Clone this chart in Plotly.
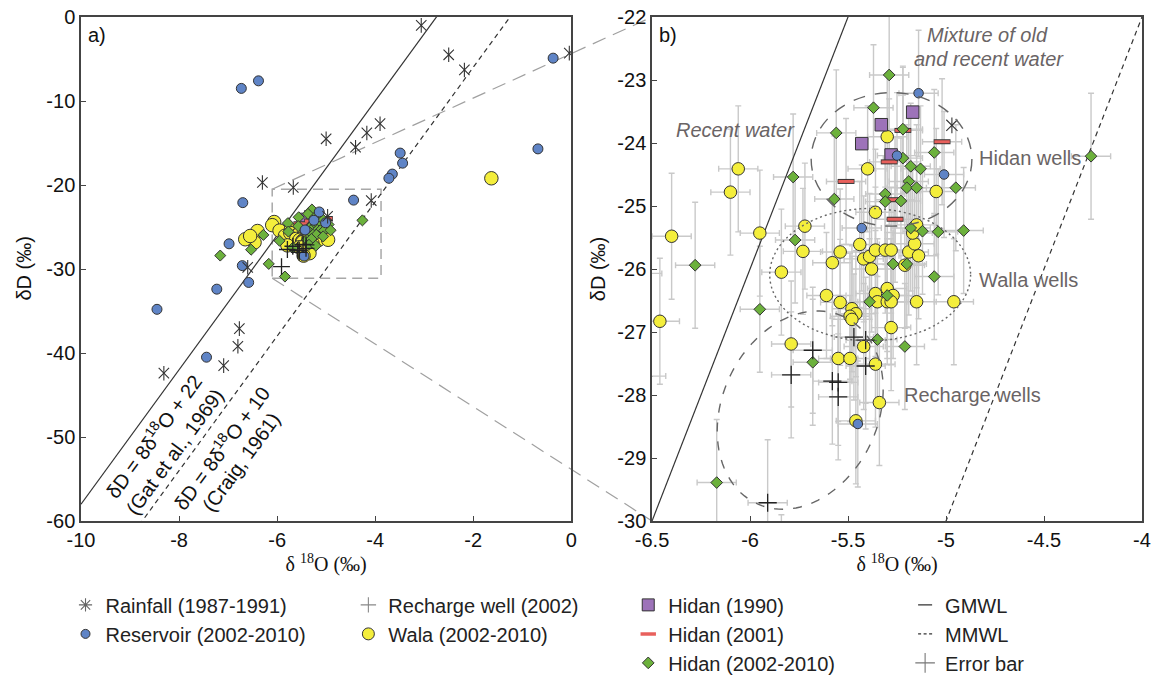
import numpy as np
import plotly.graph_objects as go

# ---------------- data ----------------
rain_o = [-3.06, -2.50, -2.18, -0.04, -3.90, -4.17, -4.40, -5.00, -6.30, -5.67, -4.08, -4.97, -6.60, -8.31, -6.77, -6.80, -7.09]
rain_d = [-1.0, -4.5, -6.3, -4.3, -12.7, -13.8, -15.5, -14.5, -19.7, -20.3, -21.85, -23.72, -29.8, -42.4, -37.1, -39.2, -41.5]

res_o = [-6.73, -6.38, -0.37, -0.68, -3.49, -3.44, -3.65, -3.72, -6.70, -4.44, -6.98, -6.71, -6.58, -7.23, -8.45, -7.44,
         -5.14, -5.25, -5.01, -5.43, -5.45]
res_d = [-8.5, -7.6, -4.9, -15.7, -16.2, -17.4, -18.7, -19.2, -22.1, -21.8, -27.0, -29.6, -31.6, -32.4, -34.8, -40.5,
         -23.21, -24.20, -24.50, -25.35, -28.46]
res_err_o = [0] * 16 + [0.1] * 5
res_err_d = [0] * 16 + [1.0] * 5

recharge_o = [-5.47, -5.41, -5.68, -5.79, -5.58, -5.55, -5.55, -5.41, -5.91]
recharge_d = [-27.08, -27.13, -27.29, -27.68, -27.78, -27.80, -28.03, -27.54, -29.71]

wala_o = [-6.40, -6.06, -6.10, -5.95, -5.72, -5.84, -5.73, -5.58, -5.54, -5.44, -5.42, -5.39, -5.38, -5.36, -5.31,
          -5.28, -5.19, -5.14, -5.21, -5.16, -5.17, -5.15, -5.05, -5.40, -5.30, -5.36, -6.46, -5.61, -5.54, -5.48,
          -5.46, -5.49, -5.48, -5.36, -5.30, -5.27, -5.35, -5.30, -5.28, -5.15, -4.96, -5.28, -5.79, -5.42, -5.55,
          -5.49, -5.36, -5.34, -5.46, -6.65, -6.55, -1.63]
wala_d = [-25.48, -24.41, -24.78, -25.43, -25.32, -26.05, -25.72, -25.90, -25.73, -25.61, -25.84, -25.80, -26.00,
          -25.70, -25.70, -25.70, -25.73, -25.79, -25.94, -25.60, -25.43, -25.30, -24.77, -24.41, -23.90, -25.10,
          -26.83, -26.42, -26.53, -26.63, -26.71, -26.75, -26.80, -26.39, -26.31, -26.42, -26.52, -26.52, -26.52,
          -26.52, -26.52, -26.93, -27.19, -27.23, -27.42, -27.42, -27.51, -28.12, -28.41, -26.46, -26.07, -19.2]

hidan1990_o = [-5.17, -5.33, -5.43, -5.28]
hidan1990_d = [-23.51, -23.71, -24.01, -24.19]

hidan2001_o = [-5.51, -5.26, -5.26, -5.02, -5.29, -5.22]
hidan2001_d = [-24.61, -24.90, -25.21, -23.98, -24.30, -23.80]

hidan2002_o = [-5.29, -5.37, -5.56, -5.22, -5.78, -5.57, -5.31, -5.31, -5.23, -5.22, -5.18, -5.13, -5.19, -5.20,
               -5.15, -5.06, -4.95, -4.26, -5.18, -5.12, -5.04, -4.91, -5.77, -6.28, -5.27, -5.20, -5.06, -5.95,
               -5.39, -5.30, -5.35, -5.21, -5.68, -6.17, -6.53, -7.16, -5.84]
hidan2002_d = [-22.92, -23.44, -23.84, -23.78, -24.54, -24.89, -24.81, -24.93, -24.92, -24.24, -24.37, -24.41,
               -24.61, -24.71, -24.71, -24.15, -24.71, -24.21, -25.35, -25.40, -25.41, -25.39, -25.54, -25.94,
               -25.92, -25.92, -26.12, -26.64, -26.52, -26.42, -27.12, -27.23, -27.48, -29.39, -27.7, -28.4, -30.9]

O_ERR = 0.1   # analytical error, delta 18O (permil)
D_ERR = 1.0   # analytical error, delta D (permil)

# meteoric water lines: slope, intercept
GMWL = (8, 22)   # Gat et al., 1969 (solid)
MMWL = (8, 10)   # Craig, 1961 (dashed)

xa_ticks = [-10, -8, -6, -4, -2, 0]
xa_text = ["-10", "-8", "-6", "-4", "-2", "0"]
ya_ticks = [0, -10, -20, -30, -40, -50, -60]
ya_text = ["0", "-10", "-20", "-30", "-40", "-50", "-60"]
xb_ticks = [-6.5, -6, -5.5, -5, -4.5, -4]
xb_text = ["-6.5", "-6", "-5.5", "-5", "-4.5", "-4"]
yb_ticks = [-22, -23, -24, -25, -26, -27, -28, -29, -30]
yb_text = ["-22", "-23", "-24", "-25", "-26", "-27", "-28", "-29", "-30"]

RA_X, RA_Y = [-10, 0], [-60, 0]
RB_X, RB_Y = [-6.5, -4], [-30, -22]
ZOOM_BOX = dict(x0=-6.1, x1=-3.88, y0=-31.1, y1=-20.5)

# ---------------- layout geometry ----------------
W, H = 1153, 676
L, R, T, B = 80.5, 11, 17.3, 155.3
PW, PH = W - L - R, H - T - B
XA = [0, (571 - L) / PW]
XB = [(651.8 - L) / PW, 1]


def px_x(p):
    return (p - L) / PW


def px_y(p):
    return 1 - (p - T) / PH


SANS = "Liberation Sans, Arial, sans-serif"
SERIF = "Liberation Serif, Times New Roman, serif"
OUT = "#333333"
C_BLUE = "#5f84c6"
C_YEL = "#f4ee3c"
C_GRN = "#6cb13c"
C_PUR = "#9d73b9"
C_RED = "#e8605c"
C_ERR = "#c9c9c9"
C_TXT = "#6a6465"

fig = go.Figure()

# error bars (panel b), drawn first so they sit below every marker
for xs, ys, ex, ey in [
    (wala_o, wala_d, None, None), (hidan2002_o, hidan2002_d, None, None),
    (recharge_o, recharge_d, None, None), (hidan2001_o, hidan2001_d, None, None),
    (res_o, res_d, res_err_o, res_err_d)]:
    if ex is None:
        errx = dict(type="constant", value=O_ERR, color=C_ERR, thickness=1.4, width=3)
        erry = dict(type="constant", value=D_ERR, color=C_ERR, thickness=1.4, width=3)
    else:
        errx = dict(type="data", array=ex, color=C_ERR, thickness=1.4, width=3)
        erry = dict(type="data", array=ey, color=C_ERR, thickness=1.4, width=3)
    fig.add_trace(go.Scatter(x=xs, y=ys, mode="markers", marker=dict(size=1, opacity=0),
                             error_x=errx, error_y=erry, xaxis="x2", yaxis="y2",
                             showlegend=False, hoverinfo="skip"))

# meteoric water lines (both panels)
for (xa, ya, xr) in [("x", "y", RA_X), ("x2", "y2", RB_X)]:
    xl = np.array(xr, dtype=float)
    for (m, c), dash in [(GMWL, "solid"), (MMWL, "5px,4px")]:
        fig.add_trace(go.Scatter(x=xl, y=m * xl + c, mode="lines", xaxis=xa, yaxis=ya,
                                 line=dict(color="#333", width=1.2, dash=dash),
                                 showlegend=False, hoverinfo="skip"))

# markers
sizes = {
    "x": dict(rain=13, res=10, wala=13.5, pur=11, red=10, grn=8.5, rech=12),
    "x2": dict(rain=14, res=9.5, wala=12.5, pur=12.5, red=11, grn=9, rech=13),
}
for xa, ya in [("x", "y"), ("x2", "y2")]:
    s = sizes[xa]
    common = dict(xaxis=xa, yaxis=ya, showlegend=False, hoverinfo="skip", mode="markers")
    fig.add_trace(go.Scatter(x=wala_o, y=wala_d, marker=dict(symbol="circle", size=s["wala"], color=C_YEL,
                                                             line=dict(color=OUT, width=1)), **common))
    fig.add_trace(go.Scatter(x=hidan1990_o, y=hidan1990_d, marker=dict(symbol="square", size=s["pur"], color=C_PUR,
                                                                       line=dict(color=OUT, width=1)), **common))
    fig.add_trace(go.Scatter(x=hidan2001_o, y=hidan2001_d, marker=dict(symbol="line-ew", size=s["red"] + 1,
                                                                       color=OUT, line=dict(color=OUT, width=5)), **common))
    fig.add_trace(go.Scatter(x=hidan2001_o, y=hidan2001_d, marker=dict(symbol="line-ew", size=s["red"],
                                                                       color=C_RED, line=dict(color=C_RED, width=3)), **common))
    fig.add_trace(go.Scatter(x=hidan2002_o, y=hidan2002_d, marker=dict(symbol="diamond", size=s["grn"], color=C_GRN,
                                                                       line=dict(color=OUT, width=1)), **common))
    fig.add_trace(go.Scatter(x=res_o, y=res_d, marker=dict(symbol="circle", size=s["res"], color=C_BLUE,
                                                           line=dict(color=OUT, width=1)), **common))
    fig.add_trace(go.Scatter(x=recharge_o, y=recharge_d, marker=dict(symbol="cross-thin-open", size=s["rech"],
                                                                     color="#222", line=dict(color="#222", width=1.3)), **common))
    fig.add_trace(go.Scatter(x=rain_o, y=rain_d, marker=dict(symbol="x-thin-open", size=s["rain"] * 0.8,
                                                             color="#333", line=dict(color="#333", width=1.1)), **common))
    fig.add_trace(go.Scatter(x=rain_o, y=rain_d, marker=dict(symbol="line-ns-open", size=s["rain"] * 0.8,
                                                             color="#333", line=dict(color="#333", width=1.1)), **common))

# ---------------- legend (four columns) ----------------
leg_font = dict(family=SANS, size=20, color="#222")
legend_items = [
    ("legend", "Rainfall (1987-1991)", dict(symbol="asterisk-open", size=11, color="#666", line=dict(color="#666", width=1.1)), None),
    ("legend", "Reservoir (2002-2010)", dict(symbol="circle", size=9, color=C_BLUE, line=dict(color=OUT, width=1)), None),
    ("legend2", "Recharge well (2002)", dict(symbol="cross-thin-open", size=11, color="#888", line=dict(color="#888", width=1.1)), None),
    ("legend2", "Wala (2002-2010)", dict(symbol="circle", size=12, color=C_YEL, line=dict(color=OUT, width=1)), None),
    ("legend3", "Hidan (1990)", dict(symbol="square", size=12, color=C_PUR, line=dict(color=OUT, width=1)), None),
    ("legend3", "Hidan (2001)", dict(symbol="line-ew", size=11, color=C_RED, line=dict(color=C_RED, width=3.5)), None),
    ("legend3", "Hidan (2002-2010)", dict(symbol="diamond", size=9, color=C_GRN, line=dict(color=OUT, width=1)), None),
    ("legend4", "GMWL", None, "0px,8px,14px,8px"),
    ("legend4", "MMWL", None, "0px,8px,3px,2.5px,3px,2.5px,3px,8px"),
    ("legend4", "Error bar", dict(symbol="cross-thin-open", size=14, color="#777", line=dict(color="#777", width=1.1)), None),
]
for i, (lg, name, mk, dash) in enumerate(legend_items):
    if mk is not None:
        fig.add_trace(go.Scatter(x=[None], y=[None], mode="markers", marker=mk, name=name,
                                 legend=lg, legendgroup=f"g{i}", showlegend=True, hoverinfo="skip"))
    else:
        fig.add_trace(go.Scatter(x=[None], y=[None], mode="lines", name=name,
                                 line=dict(color="#333", width=1.3, dash=dash),
                                 legend=lg, legendgroup=f"g{i}", showlegend=True, hoverinfo="skip"))

leg_common = dict(font=leg_font, bgcolor="rgba(0,0,0,0)", borderwidth=0, tracegroupgap=0,
                  orientation="v", xanchor="left", yanchor="top", itemsizing="trace")
legend_top = px_y(585)
layout_legends = {
    "legend": dict(x=px_x(65), y=legend_top, **leg_common),
    "legend2": dict(x=px_x(348), y=legend_top, **leg_common),
    "legend3": dict(x=px_x(628), y=legend_top, **leg_common),
    "legend4": dict(x=px_x(905), y=legend_top, **leg_common),
}

# ---------------- axes ----------------
tick_font = dict(family=SANS, size=20, color="#111")
axis_common = dict(showgrid=False, zeroline=False, showline=True, mirror=True, linecolor="#444",
                   linewidth=1.5, ticks="inside", ticklen=5, tickwidth=1.2, tickcolor="#444",
                   tickfont=tick_font, tickmode="array")
xtitle = dict(text="δ <sup>18</sup>O (‰)", font=dict(family=SERIF, size=20, color="#111"), standoff=6)
ytitle_b = dict(text="δD (‰)", font=dict(family=SANS, size=20, color="#111"), standoff=6)

fig.update_layout(
    width=W, height=H,
    margin=dict(l=L, r=R, t=T, b=B, autoexpand=False),
    paper_bgcolor="white", plot_bgcolor="rgba(0,0,0,0)",
    showlegend=True,
    xaxis=dict(domain=XA, range=RA_X, tickvals=xa_ticks, ticktext=xa_text, anchor="y", title=xtitle, **axis_common),
    yaxis=dict(domain=[0, 1], range=RA_Y, tickvals=ya_ticks, ticktext=ya_text, anchor="x", **axis_common),
    xaxis2=dict(domain=XB, range=RB_X, tickvals=xb_ticks, ticktext=xb_text, anchor="y2", title=xtitle, **axis_common),
    yaxis2=dict(domain=[0, 1], range=RB_Y, tickvals=yb_ticks, ticktext=yb_text, anchor="x2", title=ytitle_b, **axis_common),
    **layout_legends,
)


# ---------------- shapes: zoom box, connectors, ellipses ----------------
def a_to_paper(x, y):
    px = XA[0] + (x - RA_X[0]) / (RA_X[1] - RA_X[0]) * (XA[1] - XA[0])
    py = (y - RA_Y[0]) / (RA_Y[1] - RA_Y[0])
    return px, py


shapes = []
shapes.append(dict(type="rect", xref="x", yref="y", layer="below", **ZOOM_BOX,
                   line=dict(color="#a8a8a8", width=1.5, dash="10px,6px")))
tlx, tly = a_to_paper(ZOOM_BOX["x0"], ZOOM_BOX["y1"])
blx, bly = a_to_paper(ZOOM_BOX["x0"], ZOOM_BOX["y0"])
for (x0, y0, y1) in [(tlx, tly, 1), (blx, bly, 0)]:
    shapes.append(dict(type="line", xref="paper", yref="paper", x0=x0, y0=y0, x1=XB[0], y1=y1, layer="below",
                       line=dict(color="#a0a0a0", width=1.2, dash="14px,8px")))

# Hidan wells (long dashes) and Walla wells (dots)
shapes.append(dict(type="circle", xref="x2", yref="y2", x0=-5.278 - 0.41, x1=-5.278 + 0.41,
                   y0=-24.26 - 1.06, y1=-24.26 + 1.06, line=dict(color="#666", width=1.4, dash="12px,10px")))
shapes.append(dict(type="circle", xref="x2", yref="y2", x0=-5.387 - 0.5125, x1=-5.387 + 0.5125,
                   y0=-26.09 - 1.05, y1=-26.09 + 1.05, line=dict(color="#666", width=1.4, dash="2px,3px")))

# Recharge wells: tilted ellipse (semi-axes in pixels, converted through the axis scale)
sx = (XB[1] - XB[0]) * PW / (RB_X[1] - RB_X[0])
sy = PH / (RB_Y[1] - RB_Y[0])
cx, cy, a_px, b_px, ang = -5.744, -28.24, 103, 78, np.deg2rad(65)
t = np.linspace(0, 2 * np.pi, 120)
ex = a_px * np.cos(t) * np.cos(ang) - b_px * np.sin(t) * np.sin(ang)
ey = a_px * np.cos(t) * np.sin(ang) + b_px * np.sin(t) * np.cos(ang)
ox = cx + ex / sx
oy = cy + ey / sy
path = "M " + " L ".join(f"{u:.4f},{v:.4f}" for u, v in zip(ox, oy)) + " Z"
shapes.append(dict(type="path", xref="x2", yref="y2", path=path,
                   line=dict(color="#666", width=1.4, dash="9px,10px")))
fig.update_layout(shapes=shapes)

# ---------------- annotations ----------------
ann = []
lbl_font = dict(family=SANS, size=20, color="#111")
ann.append(dict(xref="paper", yref="paper", x=px_x(86), y=px_y(22), text="a)", showarrow=False,
                xanchor="left", yanchor="top", font=lbl_font))
ann.append(dict(xref="paper", yref="paper", x=px_x(657), y=px_y(22), text="b)", showarrow=False,
                xanchor="left", yanchor="top", font=lbl_font))
# panel a y-axis title
ann.append(dict(xref="paper", yref="paper", x=px_x(23), y=0.5, text="δD (‰)", showarrow=False,
                textangle=-90, xanchor="center", yanchor="middle", font=lbl_font))

sxa = (XA[1] - XA[0]) * PW / (RA_X[1] - RA_X[0])
sya = PH / (RA_Y[1] - RA_Y[0])
text_angle = -float(np.degrees(np.arctan(8 * sya / sxa)))
eq_font = dict(family=SANS, size=20, color="#111")
for x, y, txt in [(-8.54, -49.8, "δD = 8δ<sup>18</sup>O + 22"), (-8.09, -51.8, "(Gat et al., 1969)"),
                  (-7.16, -51.2, "δD = 8δ<sup>18</sup>O + 10"), (-6.73, -53.0, "(Craig, 1961)")]:
    ann.append(dict(xref="x", yref="y", x=x, y=y, text=txt, showarrow=False, textangle=text_angle,
                    xanchor="center", yanchor="middle", font=eq_font))

it_font = dict(family=SANS, size=20, color=C_TXT)
for x, y, txt, italic in [(-6.076, -23.79, "Recent water", True), (-4.79, -22.28, "Mixture of old", True),
                          (-4.78, -22.66, "and recent water", True), (-4.57, -24.24, "Hidan wells", False),
                          (-4.58, -26.18, "Walla wells", False), (-4.867, -28.0, "Recharge wells", False)]:
    ann.append(dict(xref="x2", yref="y2", x=x, y=y, text=f"<i>{txt}</i>" if italic else txt, showarrow=False,
                    xanchor="center", yanchor="middle", font=it_font))
fig.update_layout(annotations=ann)

fig.write_html("out.html")
